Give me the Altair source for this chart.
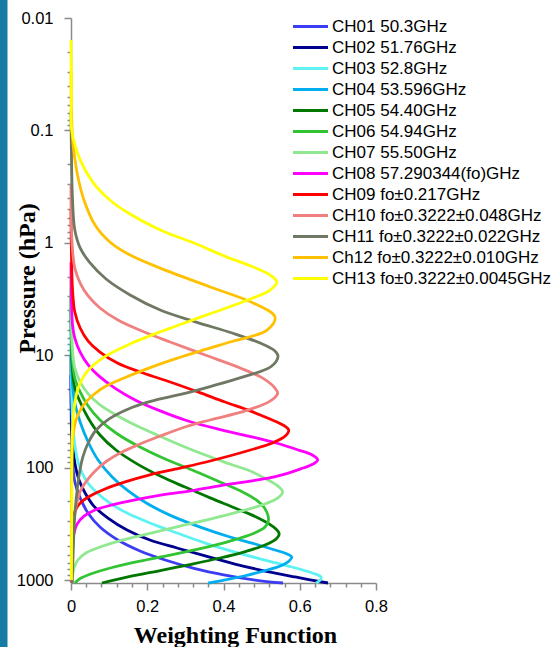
import altair as alt
import pandas as pd

labels = [
    "CH01 50.3GHz", "CH02 51.76GHz", "CH03 52.8GHz", "CH04 53.596GHz",
    "CH05 54.40GHz", "CH06 54.94GHz", "CH07 55.50GHz", "CH08 57.290344(fo)GHz",
    "CH09 fo±0.217GHz", "CH10 fo±0.3222±0.048GHz", "CH11 fo±0.3222±0.022GHz",
    "Ch12 fo±0.3222±0.010GHz", "CH13 fo±0.3222±0.0045GHz",
]
colors = [
    "#3C3CF2", "#00008E", "#5EF2F2", "#00AEEF", "#007800", "#33C433", "#90E890",
    "#FF00FF", "#FF0000", "#F08080", "#6E7862", "#FFC000", "#FFFF00",
]

# pressure (hPa) / weighting-function pairs
ch01_p = [15, 46.3, 85.5, 134, 186, 255, 338, 441, 552, 664, 791, 903, 1000, 1063]
ch01_w = [0.0, 0.001, 0.004, 0.010, 0.024, 0.045, 0.076, 0.123, 0.181, 0.247, 0.325, 0.404, 0.483, 0.556]
ch02_p = [10, 30.8, 56.8, 91.0, 129, 168, 220, 281, 359, 441, 519, 611, 721, 832, 940, 1063]
ch02_w = [0.0, 0.001, 0.004, 0.010, 0.021, 0.037, 0.060, 0.097, 0.147, 0.207, 0.278, 0.352, 0.430, 0.509, 0.588, 0.674]
ch03_p = [8.0, 16.6, 37.7, 62.9, 94.8, 129, 165, 207, 254, 311, 382, 469, 564, 664, 766, 866, 940, 1000, 1063]
ch03_w = [0.0, 0.001, 0.004, 0.010, 0.021, 0.039, 0.066, 0.102, 0.147, 0.207, 0.278, 0.352, 0.430, 0.509, 0.580, 0.633, 0.656, 0.654, 0.643]
ch04_p = [4.0, 11.0, 18.4, 26.6, 39.3, 59.2, 85.5, 121, 161, 211, 270, 338, 414, 478, 541, 587, 624, 678, 751, 832, 921, 1010, 1063]
ch04_w = [0.0, 0.001, 0.004, 0.010, 0.024, 0.045, 0.071, 0.108, 0.150, 0.202, 0.265, 0.339, 0.417, 0.483, 0.535, 0.567, 0.579, 0.572, 0.549, 0.504, 0.454, 0.396, 0.360]
ch05_p = [3.0, 7.33, 13.5, 19.6, 26.1, 36.2, 51.3, 69.7, 91.6, 119, 149, 186, 229, 275, 331, 386, 432, 488, 558, 637, 728, 823, 930, 1063]
ch05_w = [0.0, 0.001, 0.004, 0.010, 0.024, 0.045, 0.076, 0.118, 0.171, 0.234, 0.299, 0.365, 0.430, 0.486, 0.528, 0.546, 0.538, 0.509, 0.457, 0.391, 0.312, 0.234, 0.155, 0.081]
ch06_p = [2.5, 5.97, 11.0, 15.96, 21.2, 28.3, 37.7, 49.2, 64.3, 83.9, 105, 132, 161, 194, 233, 292, 338, 390, 450, 525, 600, 678, 774, 875, 970, 1063]
ch06_w = [0.0, 0.001, 0.004, 0.010, 0.024, 0.045, 0.076, 0.118, 0.176, 0.247, 0.318, 0.386, 0.444, 0.486, 0.509, 0.518, 0.509, 0.475, 0.417, 0.339, 0.260, 0.181, 0.108, 0.055, 0.024, 0.010]
ch07_p = [2.0, 4.86, 8.99, 13.0, 17.3, 22.1, 27.7, 34.0, 41.8, 51.3, 62.9, 77.3, 92.9, 109, 129, 146, 165, 186, 215, 248, 287, 331, 385, 441, 509, 575, 664, 782, 940, 1063]
ch07_w = [0.0, 0.001, 0.004, 0.010, 0.024, 0.045, 0.076, 0.118, 0.168, 0.226, 0.286, 0.352, 0.417, 0.475, 0.517, 0.543, 0.555, 0.543, 0.501, 0.438, 0.365, 0.286, 0.207, 0.134, 0.076, 0.039, 0.018, 0.008, 0.004, 0.003]
ch08_p = [1.5, 3.23, 5.39, 7.03, 9.37, 12.2, 15.6, 19.6, 25.0, 31.3, 38.5, 45.4, 52.4, 60.4, 69.7, 77.3, 85.5, 92.9, 103, 119, 132, 144, 160, 175, 194, 215, 238, 270, 318, 398, 600, 1063]
ch08_w = [0.0, 0.001, 0.004, 0.010, 0.024, 0.045, 0.076, 0.115, 0.168, 0.234, 0.307, 0.386, 0.465, 0.538, 0.596, 0.633, 0.647, 0.635, 0.601, 0.541, 0.470, 0.396, 0.318, 0.239, 0.168, 0.108, 0.063, 0.034, 0.016, 0.007, 0.003, 0.001]
ch09_p = [0.5, 1.16, 2.63, 4.13, 5.73, 7.48, 9.37, 11.8, 14.4, 17.3, 21.2, 26.1, 31.3, 37.0, 41.8, 46.3, 52.4, 60.4, 71.9, 87.3, 101, 116, 134, 155, 179, 207, 248, 359, 664, 1063]
ch09_w = [0.0, 0.001, 0.004, 0.010, 0.024, 0.045, 0.076, 0.123, 0.189, 0.260, 0.333, 0.404, 0.470, 0.522, 0.556, 0.571, 0.562, 0.528, 0.457, 0.365, 0.286, 0.207, 0.142, 0.089, 0.050, 0.024, 0.010, 0.004, 0.0016, 0.001]
ch10_p = [0.3, 0.627, 1.16, 1.68, 2.28, 2.97, 3.80, 4.86, 6.09, 7.63, 9.96, 13.0, 16.3, 19.6, 21.9, 25.6, 31.3, 37.7, 43.5, 52.4, 61.7, 72.6, 87.3, 105, 126, 158, 202, 292, 541, 1063]
ch10_w = [0.0, 0.0005, 0.004, 0.010, 0.024, 0.045, 0.076, 0.123, 0.186, 0.260, 0.352, 0.444, 0.507, 0.535, 0.542, 0.522, 0.457, 0.365, 0.299, 0.234, 0.181, 0.134, 0.094, 0.066, 0.045, 0.026, 0.016, 0.008, 0.004, 0.002]
ch11_p = [0.066, 0.149, 0.416, 0.769, 1.11, 1.51, 2.10, 2.91, 3.96, 5.07, 6.35, 7.79, 9.18, 10.2, 12.6, 15.5, 19.0, 21.7, 25.0, 28.9, 36.9, 46.3, 60.4, 80.5, 112, 149, 264, 664, 1063]
ch11_w = [0.0, 0.001, 0.004, 0.010, 0.024, 0.050, 0.092, 0.155, 0.234, 0.328, 0.423, 0.496, 0.535, 0.543, 0.525, 0.454, 0.365, 0.302, 0.223, 0.163, 0.100, 0.066, 0.045, 0.031, 0.022, 0.017, 0.010, 0.005, 0.003]
ch12_p = [0.03, 0.066, 0.129, 0.239, 0.416, 0.695, 0.984, 1.26, 1.68, 2.47, 3.43, 4.57, 5.97, 7.63, 9.18, 11.0, 13.3, 15.96, 18.8, 22.6, 28.3, 37.7, 53.4, 105, 541, 1000]
ch12_w = [0.0, 0.001, 0.005, 0.016, 0.034, 0.063, 0.102, 0.150, 0.234, 0.365, 0.478, 0.535, 0.514, 0.417, 0.339, 0.265, 0.197, 0.139, 0.092, 0.058, 0.031, 0.013, 0.005, 0.002, 0.001, 0.001]
ch13_p = [0.0157, 0.05, 0.1, 0.183, 0.294, 0.416, 0.532, 0.769, 1.0, 1.34, 1.64, 1.93, 2.23, 2.63, 3.23, 4.21, 5.5, 6.6, 7.8, 10.3, 14, 20, 30, 50, 200, 1000]
ch13_w = [0.0, 0.001, 0.002, 0.024, 0.059, 0.102, 0.146, 0.234, 0.321, 0.409, 0.478, 0.522, 0.540, 0.522, 0.464, 0.370, 0.276, 0.213, 0.160, 0.089, 0.042, 0.018, 0.008, 0.0034, 0.002, 0.001]

series_p = [ch01_p, ch02_p, ch03_p, ch04_p, ch05_p, ch06_p, ch07_p, ch08_p, ch09_p, ch10_p, ch11_p, ch12_p, ch13_p]
series_w = [ch01_w, ch02_w, ch03_w, ch04_w, ch05_w, ch06_w, ch07_w, ch08_w, ch09_w, ch10_w, ch11_w, ch12_w, ch13_w]

y_major = [0.01, 0.1, 1, 10, 100, 1000]
y_minor = [0.02, 0.03, 0.04, 0.05, 0.06, 0.07, 0.08, 0.09,
           0.2, 0.3, 0.4, 0.5, 0.6, 0.7, 0.8, 0.9,
           2, 3, 4, 5, 6, 7, 8, 9,
           20, 30, 40, 50, 60, 70, 80, 90,
           200, 300, 400, 500, 600, 700, 800, 900]
x_ticks = [0, 0.04, 0.08, 0.12, 0.16, 0.2, 0.24, 0.28, 0.32, 0.36, 0.4,
           0.44, 0.48, 0.52, 0.56, 0.6, 0.64, 0.68, 0.72, 0.76, 0.8]

rows = []
for lab, ps, ws in zip(labels, series_p, series_w):
    for i, (p, w) in enumerate(zip(ps, ws)):
        rows.append({"channel": lab, "p": p, "w": w, "i": i})
df = pd.DataFrame(rows)

y_test = "indexof([0.01,0.1,1,10,100,1000], datum.value) >= 0"
x_test = "abs(datum.value*5 - round(datum.value*5)) < 0.001"
axis_grey = "#8A8A8A"

y_axis = alt.Axis(
    values=sorted(y_major + y_minor),
    title="Pressure (hPa)",
    labelExpr=f"{y_test} ? format(datum.value, '~g') : ''",
    grid=False, domainColor=axis_grey, tickColor=axis_grey, domainWidth=1.5, tickWidth=1.5,
    tickSize={"condition": {"test": y_test, "value": 7}, "value": 4},
    labelFont="Liberation Sans", labelFontSize=16.5, labelColor="black",
    labelPadding=11, labelOverlap=False, labelFlush=False,
    titleFont="Liberation Serif", titleFontSize=24, titleFontWeight="bold", titleColor="black",
    titleAngle=270, titleX=-37, titleY=260, titleAlign="center", titleBaseline="alphabetic",
)
x_axis = alt.Axis(
    values=x_ticks,
    title="Weighting Function",
    labelExpr=f"{x_test} ? format(datum.value, '~g') : ''",
    grid=False, domainColor=axis_grey, tickColor=axis_grey, domainWidth=1.5, tickWidth=1.5,
    tickSize={"condition": {"test": x_test, "value": 7}, "value": 4},
    labelFont="Liberation Sans", labelFontSize=16.5, labelColor="black",
    labelPadding=8, labelOverlap=False, labelFlush=False,
    titleFont="Liberation Serif", titleFontSize=24, titleFontWeight="bold", titleColor="black",
    titleX=164, titleY=59, titleAlign="center", titleBaseline="alphabetic",
)

lines = alt.Chart(df).mark_line(strokeWidth=2.8, interpolate="catmull-rom").encode(
    x=alt.X("w:Q", scale=alt.Scale(domain=[0, 0.8], nice=False, zero=False), axis=x_axis),
    y=alt.Y("p:Q", scale=alt.Scale(type="log", domain=[0.01, 1063], reverse=True, nice=False), axis=y_axis),
    color=alt.Color(
        "channel:N",
        scale=alt.Scale(domain=labels, range=colors),
        legend=alt.Legend(
            title=None, orient="none", legendX=231, legendY=0, padding=0,
            symbolType="M-3.5,0H3.5", symbolSize=100, symbolStrokeWidth=2.8,
            labelFont="Liberation Sans", labelFontSize=17, labelColor="black",
            labelOffset=13, rowPadding=3, labelLimit=400,
        ),
    ),
    order=alt.Order("i:Q"),
)

bar = alt.Chart(pd.DataFrame({"k": [0]})).mark_rect(color="#167CA4").encode(
    x=alt.value(-71), x2=alt.value(-63.5), y=alt.value(-18), y2=alt.value(629)
)

chart = alt.layer(bar, lines).properties(
    width=305, height=565,
    autosize=alt.AutoSizeParams(type="none"),
    padding={"left": 71, "top": 18, "right": 179, "bottom": 64},
    background="white",
).configure_view(stroke=None)

chart.save("out.html", embed_options={"renderer": "svg", "actions": False})
